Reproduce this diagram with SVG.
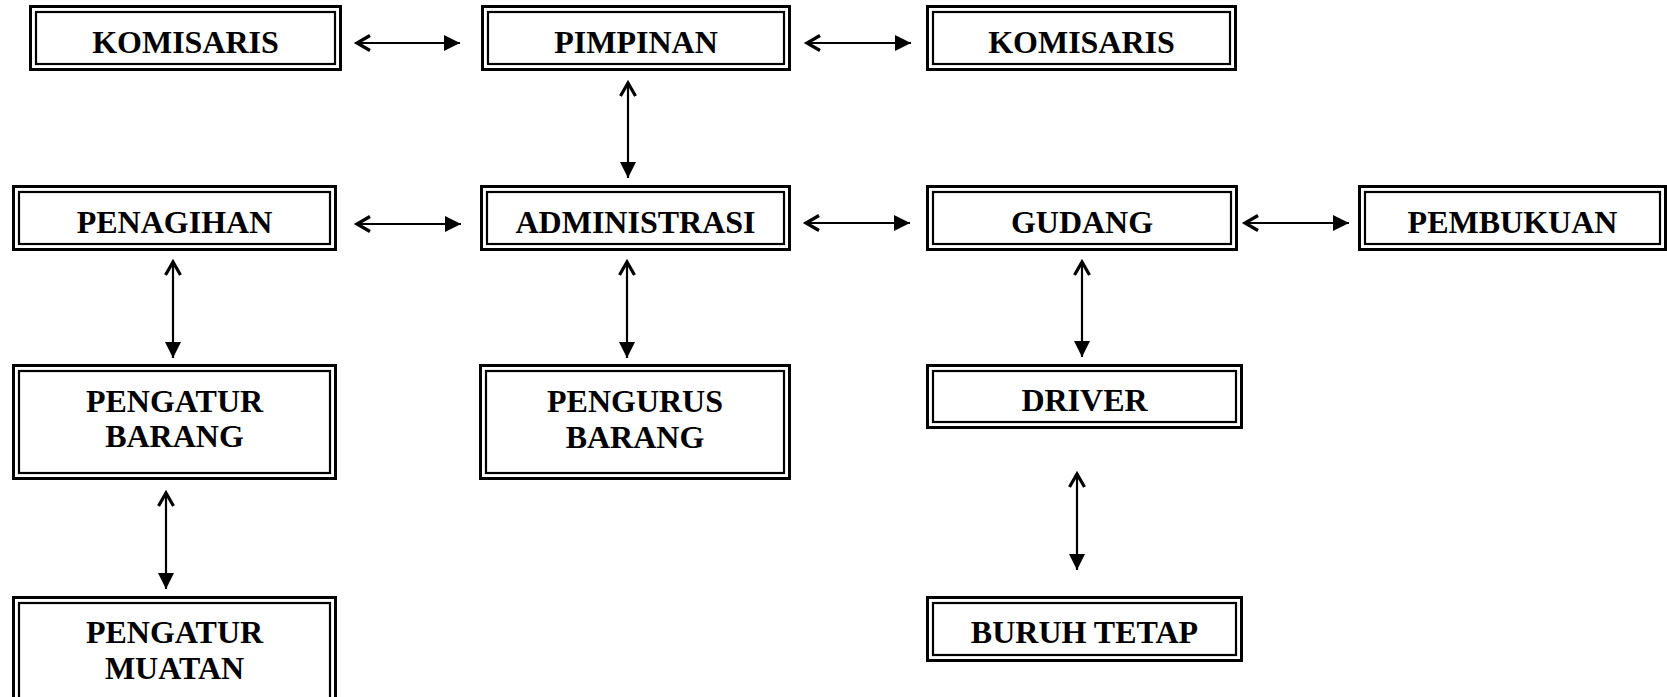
<svg xmlns="http://www.w3.org/2000/svg" width="1667" height="697" viewBox="0 0 1667 697">
<style>
  .o { fill: #fff; stroke: #000; stroke-width: 3; }
  .i { fill: none; stroke: #000; stroke-width: 2.2; }
  .t { font-family: "Liberation Serif", "Times New Roman", serif; font-weight: bold; font-size: 32px; fill: #000; text-anchor: middle; }
  .c line { stroke: #000; stroke-width: 2.2; marker-start: url(#open); marker-end: url(#solid); }
</style>
<defs>
  <marker id="solid" markerUnits="userSpaceOnUse" markerWidth="18" markerHeight="18" refX="16" refY="8" orient="auto" overflow="visible">
    <path d="M0,0 L16,8 L0,16 Z" fill="#000"/>
  </marker>
  <marker id="open" markerUnits="userSpaceOnUse" markerWidth="18" markerHeight="18" refX="14" refY="8" orient="auto-start-reverse" overflow="visible">
    <path d="M1,0.5 L14,8 L1,15.5" fill="none" stroke="#000" stroke-width="3.2" stroke-linejoin="miter"/>
  </marker>
</defs>
<rect width="1667" height="697" fill="#fff"/>

<g id="komisaris-kiri">
  <rect class="o" x="30.5" y="6.5" width="310" height="63"/>
  <rect class="i" x="36" y="12" width="299" height="52"/>
  <text class="t" x="185.5" y="53">KOMISARIS</text>
</g>
<g id="pimpinan">
  <rect class="o" x="482.5" y="6.5" width="307" height="63"/>
  <rect class="i" x="488" y="12" width="296" height="52"/>
  <text class="t" x="636" y="53">PIMPINAN</text>
</g>
<g id="komisaris-kanan">
  <rect class="o" x="927.5" y="6.5" width="308" height="63"/>
  <rect class="i" x="933" y="12" width="297" height="52"/>
  <text class="t" x="1081.5" y="53">KOMISARIS</text>
</g>
<g id="penagihan">
  <rect class="o" x="13.5" y="186.5" width="322" height="63"/>
  <rect class="i" x="19" y="192" width="311" height="52"/>
  <text class="t" x="174.5" y="233">PENAGIHAN</text>
</g>
<g id="administrasi">
  <rect class="o" x="481.5" y="186.5" width="308" height="63"/>
  <rect class="i" x="487" y="192" width="297" height="52"/>
  <text class="t" x="635.5" y="233">ADMINISTRASI</text>
</g>
<g id="gudang">
  <rect class="o" x="927.5" y="186.5" width="309" height="63"/>
  <rect class="i" x="933" y="192" width="298" height="52"/>
  <text class="t" x="1082" y="233">GUDANG</text>
</g>
<g id="pembukuan">
  <rect class="o" x="1359.5" y="186.5" width="306" height="63"/>
  <rect class="i" x="1365" y="192" width="295" height="52"/>
  <text class="t" x="1512.5" y="233">PEMBUKUAN</text>
</g>
<g id="pengatur-barang">
  <rect class="o" x="13.5" y="365.5" width="322" height="113"/>
  <rect class="i" x="19" y="371" width="311" height="102"/>
  <text class="t" x="174.5" y="412">PENGATUR</text>
  <text class="t" x="174.5" y="447">BARANG</text>
</g>
<g id="pengurus-barang">
  <rect class="o" x="480.5" y="365.5" width="309" height="113"/>
  <rect class="i" x="486" y="371" width="298" height="102"/>
  <text class="t" x="635" y="412">PENGURUS</text>
  <text class="t" x="635" y="448">BARANG</text>
</g>
<g id="driver">
  <rect class="o" x="927.5" y="365.5" width="314" height="62"/>
  <rect class="i" x="933" y="371" width="303" height="51"/>
  <text class="t" x="1084.5" y="411">DRIVER</text>
</g>
<g id="pengatur-muatan">
  <rect class="o" x="13.5" y="597.5" width="322" height="120"/>
  <rect class="i" x="19" y="603" width="311" height="110"/>
  <text class="t" x="174.5" y="643">PENGATUR</text>
  <text class="t" x="174.5" y="679">MUATAN</text>
</g>
<g id="buruh-tetap">
  <rect class="o" x="927.5" y="597.5" width="314" height="63"/>
  <rect class="i" x="933" y="603" width="303" height="52"/>
  <text class="t" x="1084.5" y="643">BURUH TETAP</text>
</g>

<g id="connectors" class="c">
  <line x1="357" y1="43" x2="460" y2="43"/>
  <line x1="807" y1="43" x2="911" y2="43"/>
  <line x1="628" y1="83" x2="628" y2="178"/>
  <line x1="357" y1="224" x2="461" y2="224"/>
  <line x1="806" y1="223" x2="910" y2="223"/>
  <line x1="1245" y1="223" x2="1349" y2="223"/>
  <line x1="173" y1="262" x2="173" y2="358"/>
  <line x1="627" y1="262" x2="627" y2="358"/>
  <line x1="1082" y1="262" x2="1082" y2="357"/>
  <line x1="166" y1="493" x2="166" y2="589"/>
  <line x1="1077" y1="474" x2="1077" y2="570"/>
</g>
</svg>
